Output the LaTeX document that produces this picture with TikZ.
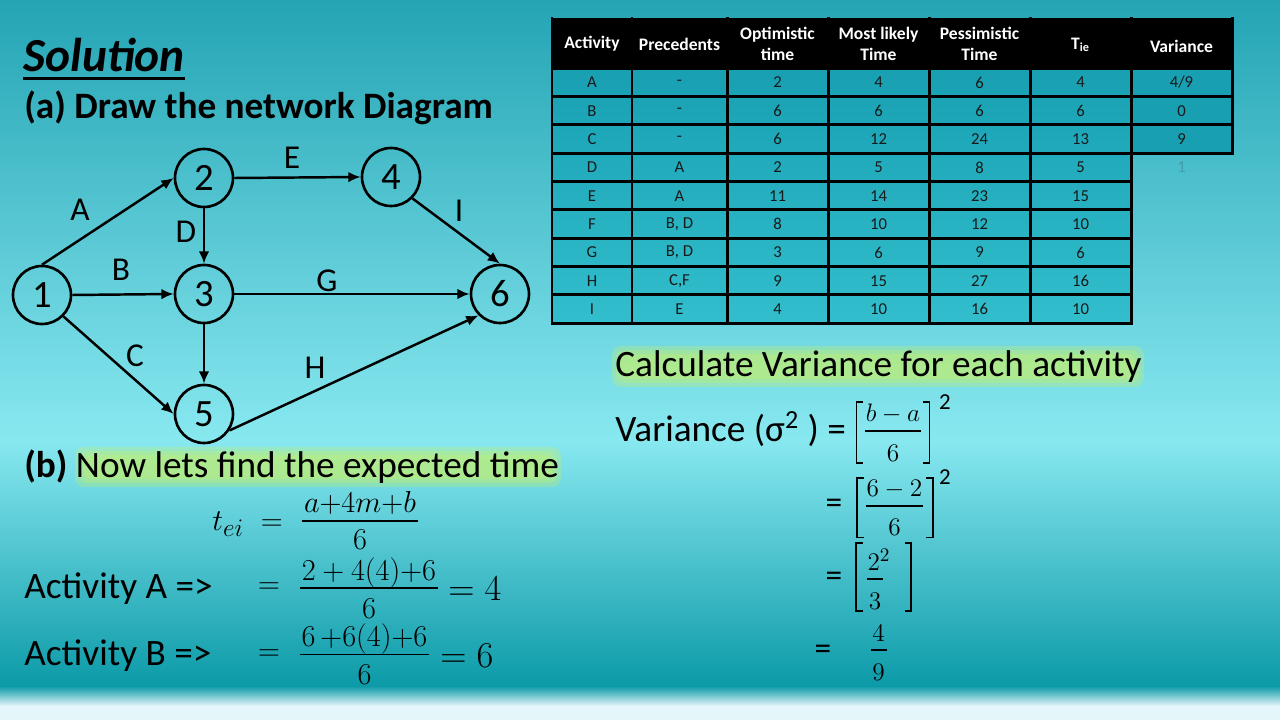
\documentclass[tikz,border=0pt]{standalone}
\usepackage{fontspec}
\setmainfont{Carlito}
\usetikzlibrary{arrows.meta,calc}
\definecolor{bgtop}{RGB}{36,164,180}
\definecolor{bgmid}{RGB}{136,232,240}
\definecolor{bglow}{RGB}{12,154,168}
\definecolor{bgfoot}{RGB}{228,246,249}
\definecolor{cellc}{RGB}{24,160,178}
\definecolor{celld}{RGB}{50,190,205}
\definecolor{glowc}{RGB}{200,240,100}
\definecolor{inkc}{RGB}{25,25,25}
\tikzset{
  event/.style={circle, draw=black, line width=1.5pt, minimum size=33pt, font=\fontsize{22}{24}\selectfont},
  actlabel/.style={font=\fontsize{19}{22}\selectfont},
  link/.style={line width=1.4pt, -{Latex[length=7pt,width=6pt]}},
  hdr/.style={text=white, align=center, font=\bfseries\fontsize{10}{12}\selectfont},
  cell/.style={text=inkc, font=\fontsize{9.5}{11}\selectfont},
  tabline/.style={line width=1.7pt, line cap=rect},
  bigtext/.style={anchor=base west, font=\fontsize{21.2}{24}\selectfont},
  fpart/.style={anchor=base, font=\fontsize{16}{20}\selectfont},
  vpart/.style={anchor=base, font=\fontsize{15}{18}\selectfont},
  fbar/.style={line width=1.1pt},
  brk/.style={line width=1pt},
  eqsign/.style={font=\fontsize{19}{22}\selectfont},
  supnum/.style={font=\fontsize{13}{15}\selectfont},
}
\begin{document}
\begin{tikzpicture}[scale=0.2]
    \tikzstyle{every node}+=[inner sep=0pt]
    \useasboundingbox (0,0) rectangle (128,-72);
    \shade [top color=bgtop, bottom color=bgmid] (0,0) rectangle (128,-44);
    \shade [top color=bgmid, bottom color=bglow] (0,-44) rectangle (128,-68.6);
    \shade [top color=bglow, bottom color=bgfoot] (0,-68.6) rectangle (128,-70.6);
    \fill [bgfoot] (0,-70.6) rectangle (128,-72);
    % part (a)
    \node [anchor=base west, font=\bfseries\itshape\fontsize{27}{30}\selectfont] (title) at (2.3,-7.2) {Solution};
    \draw [line width=1.3pt] ($(title.base west)+(0,-0.65)$) -- ($(title.base east)+(0,-0.65)$);
    \node [bigtext, font=\bfseries\fontsize{21.2}{24}\selectfont] (parta) at (2.4,-11.9) {(a) Draw the network Diagram};
    \node [event] (n1) at (4.2,-29.5) {1};
    \node [event] (n2) at (20.4,-17.8) {2};
    \node [event] (n3) at (20.4,-29.4) {3};
    \node [event] (n4) at (39.1,-17.7) {4};
    \node [event] (n5) at (20.4,-41.4) {5};
    \node [event] (n6) at (50.0,-29.4) {6};
    \draw [link] (n1.north) -- (n2.west);
    \draw [link] (n1.east) -- (n3.west);
    \draw [link] (n1.south east) -- (n5.west);
    \draw [link] (n2.south) -- (n3.north);
    \draw [link] (n2.east) -- (n4.west);
    \draw [link] (n3.south) -- (n5.north);
    \draw [link] (n3.east) -- (n6.west);
    \draw [link] (n4.south east) -- (n6.north);
    \draw [link] (n5.-33) -- (n6.south west);
    \node [actlabel] (lA) at (8.0,-21.0) {A};
    \node [actlabel] (lB) at (12.1,-27.0) {B};
    \node [actlabel] (lC) at (13.5,-35.6) {C};
    \node [actlabel] (lD) at (18.6,-23.2) {D};
    \node [actlabel] (lE) at (29.2,-15.8) {E};
    \node [actlabel] (lG) at (32.7,-28.1) {G};
    \node [actlabel] (lH) at (31.5,-36.8) {H};
    \node [actlabel] (lI) at (45.9,-21.1) {I};
    % part (b)
    \foreach \g in {0,0.4,0.8}
        \fill [glowc, opacity=0.3, rounded corners=5pt] (7.5+\g,-44.7-\g) rectangle (56.1-\g,-48.7+\g);
    \node [bigtext] (partb) at (2.4,-47.8) {\textbf{(b)} Now lets find the expected time};
    \node [anchor=base west, font=\fontsize{19}{22}\selectfont] (tei) at (21.2,-53.0) {$t_{ei}\;=$};
    \node [fpart] (ntei) at (36.0,-51.2) {$a{+}4m{+}b$};
    \node [fpart] (dtei) at (36.0,-55.0) {$6$};
    \draw [fbar] ($(ntei.base west)+(-0.15,-0.9)$) -- ($(ntei.base east)+(0.15,-0.9)$);
    \node [bigtext] (actA) at (2.4,-59.8) {Activity A =>};
    \node [eqsign] (eqA) at (26.9,-58.8) {$=$};
    \node [fpart] (nA) at (36.9,-58.0) {$2+4(4){+}6$};
    \node [fpart] (dA) at (36.9,-61.8) {$6$};
    \draw [fbar] ($(nA.base west)+(-0.15,-0.8)$) -- ($(nA.base east)+(0.15,-0.8)$);
    \node [anchor=base west, font=\fontsize{21}{24}\selectfont] (resA) at (44.8,-60.0) {$=4$};
    \node [bigtext] (actB) at (2.4,-66.5) {Activity B =>};
    \node [eqsign] (eqB) at (26.9,-65.5) {$=$};
    \node [fpart] (nB) at (36.45,-64.65) {$6\,{+}6(4){+}6$};
    \node [fpart] (dB) at (36.45,-68.45) {$6$};
    \draw [fbar] ($(nB.base west)+(-0.15,-0.8)$) -- ($(nB.base east)+(0.15,-0.8)$);
    \node [anchor=base west, font=\fontsize{21}{24}\selectfont] (resB) at (44.0,-66.7) {$=6$};
    % table
    \fill [black] (55.2,-1.83) rectangle (123.2,-6.83);
    \shade [top color=cellc, bottom color=celld] (55.2,-6.83) rectangle (113.1,-32.33);
    \fill [cellc] (113.1,-6.83) rectangle (123.2,-15.33);
    \foreach \x in {55.2,63.2,72.7,82.8,92.9,103.0,113.1}
        \draw [tabline] (\x,-1.83) -- (\x,-32.33);
    \draw [tabline] (123.2,-1.83) -- (123.2,-15.33);
    \foreach \k in {0,...,9}
        \draw [tabline] (55.2,-6.83-2.833*\k) -- (113.1,-6.83-2.833*\k);
    \foreach \k in {0,...,3}
        \draw [tabline] (113.1,-6.83-2.833*\k) -- (123.2,-6.83-2.833*\k);
    \node [hdr] (hAct) at (59.2,-4.4) {Activity};
    \node [hdr] (hPre) at (67.95,-4.4) {Precedents};
    \node [hdr] (hOpt) at (77.75,-4.4) {Optimistic\\time};
    \node [hdr] (hMost) at (87.85,-4.4) {Most likely\\Time};
    \node [hdr] (hPes) at (97.95,-4.4) {Pessimistic\\Time};
    \node [hdr] (hTie) at (108.05,-4.5) {T\textsubscript{ie}};
    \node [hdr] (hVar) at (118.15,-4.6) {Variance};
    \foreach \k/\a/\p/\o/\m/\b/\t in {0/A/-/2/4/6/4, 1/B/-/6/6/6/6, 2/C/-/6/12/24/13,
        3/D/A/2/5/8/5, 4/E/A/11/14/23/15, 5/F/{B, D}/8/10/12/10, 6/G/{B, D}/3/6/9/6,
        7/H/{C,F}/9/15/27/16, 8/I/E/4/10/16/10} {
        \node [cell] (a\a) at (59.2,-8.25-2.833*\k) {\a};
        \node [cell] (p\a) at (67.95,-8.25-2.833*\k) {\p};
        \node [cell] (o\a) at (77.75,-8.25-2.833*\k) {\o};
        \node [cell] (m\a) at (87.85,-8.25-2.833*\k) {\m};
        \node [cell] (b\a) at (97.95,-8.25-2.833*\k) {\b};
        \node [cell] (t\a) at (108.05,-8.25-2.833*\k) {\t};
    }
    \node [cell] (vA) at (118.15,-8.25) {4/9};
    \node [cell] (vB) at (118.15,-11.08) {0};
    \node [cell] (vC) at (118.15,-13.92) {9};
    \node [cell, opacity=0.2] (vD) at (118.15,-16.75) {1};
    % variance
    \foreach \g in {0,0.4,0.8}
        \fill [glowc, opacity=0.3, rounded corners=5pt] (61.2+\g,-34.6-\g) rectangle (114.4-\g,-38.7+\g);
    \node [bigtext] (calc) at (61.5,-37.7) {Calculate Variance for each activity};
    \node [bigtext] (vname) at (61.5,-44.2) {Variance (σ\textsuperscript{2} ) =};
    \node [vpart] (vn1) at (89.3,-42.2) {$b-a$};
    \node [vpart] (vd1) at (89.3,-46.1) {$6$};
    \draw [fbar] ($(vn1.base west)+(0,-0.9)$) -- ($(vn1.base east)+(0,-0.9)$);
    \draw [brk] ($(vn1.north west)+(-0.25,0.2)$) -- ($(vn1.north west)+(-0.9,0.2)$) -- ($(vn1.west |- vd1.south)+(-0.9,-0.15)$) -- ($(vn1.west |- vd1.south)+(-0.25,-0.15)$);
    \draw [brk] ($(vn1.north east)+(0.25,0.2)$) -- ($(vn1.north east)+(0.9,0.2)$) -- ($(vn1.east |- vd1.south)+(0.9,-0.15)$) -- ($(vn1.east |- vd1.south)+(0.25,-0.15)$);
    \node [supnum] (sq1) at (94.5,-40.2) {2};
    \node [eqsign] (veq2) at (83.4,-50.6) {=};
    \node [vpart] (vn2) at (89.45,-49.67) {$6-2$};
    \node [vpart] (vd2) at (89.45,-53.57) {$6$};
    \draw [fbar] ($(vn2.base west)+(0,-0.9)$) -- ($(vn2.base east)+(0,-0.9)$);
    \draw [brk] ($(vn2.north west)+(-0.25,0.2)$) -- ($(vn2.north west)+(-0.9,0.2)$) -- ($(vn2.west |- vd2.south)+(-0.9,-0.15)$) -- ($(vn2.west |- vd2.south)+(-0.25,-0.15)$);
    \draw [brk] ($(vn2.north east)+(0.35,0.2)$) -- ($(vn2.north east)+(1.05,0.2)$) -- ($(vn2.east |- vd2.south)+(1.05,-0.15)$) -- ($(vn2.east |- vd2.south)+(0.35,-0.15)$);
    \node [supnum] (sq2) at (94.5,-47.7) {2};
    \node [eqsign] (veq3) at (83.4,-57.9) {=};
    \node [vpart] (vn3) at (87.9,-57.03) {$2^2$};
    \node [vpart] (vd3) at (87.5,-60.93) {$3$};
    \draw [fbar] ($(vd3.base west |- vn3.base)+(-0.15,-0.9)$) -- ($(vd3.base east |- vn3.base)+(0.15,-0.9)$);
    \draw [brk] ($(vn3.north west)+(-0.45,0.5)$) -- ($(vn3.north west)+(-1.1,0.5)$) -- ($(vn3.west |- vd3.south)+(-1.1,-0.15)$) -- ($(vn3.west |- vd3.south)+(-0.45,-0.15)$);
    \draw [brk] ($(vn3.north east)+(1.4,0.5)$) -- ($(vn3.north east)+(2.05,0.5)$) -- ($(vn3.east |- vd3.south)+(2.05,-0.15)$) -- ($(vn3.east |- vd3.south)+(1.4,-0.15)$);
    \node [eqsign] (veq4) at (82.3,-65.2) {=};
    \node [vpart] (vn4) at (87.86,-64.1) {$4$};
    \node [vpart] (vd4) at (87.86,-68.0) {$9$};
    \draw [fbar] ($(vn4.base west)+(-0.15,-0.9)$) -- ($(vn4.base east)+(0.15,-0.9)$);
\end{tikzpicture}
\end{document}
